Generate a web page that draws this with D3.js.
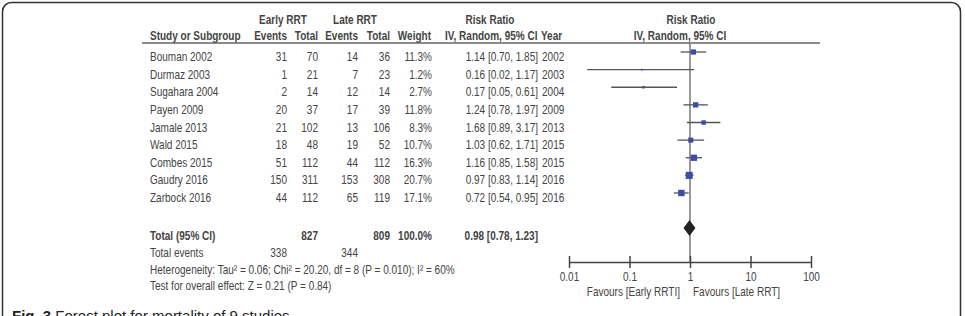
<!DOCTYPE html>
<html>
<head>
<meta charset="utf-8">
<script src="https://cdn.jsdelivr.net/npm/d3@7"></script>
<style>
  body { margin: 0; background: #fff; }
  svg text { font-family: "Liberation Sans Narrow", "Arial Narrow", "Liberation Sans", Arial, sans-serif; font-size: 13px; fill: #444; }
  .bold { font-weight: bold; }
</style>
</head>
<body>
<div id="chart"></div>
<script>
// forest plot, early vs late RRT mortality
var studies = ["Bouman 2002", "Durmaz 2003", "Sugahara 2004", "Payen 2009", "Jamale 2013", "Wald 2015", "Combes 2015", "Gaudry 2016", "Zarbock 2016"];
var earlyEvents = [31, 1, 2, 20, 21, 18, 51, 150, 44];
var earlyTotal = [70, 21, 14, 37, 102, 48, 112, 311, 112];
var lateEvents = [14, 7, 12, 17, 13, 19, 44, 153, 65];
var lateTotal = [36, 23, 14, 39, 106, 52, 112, 308, 119];
var weights = [11.3, 1.2, 2.7, 11.8, 8.3, 10.7, 16.3, 20.7, 17.1];
var rr = [1.14, 0.16, 0.17, 1.24, 1.68, 1.03, 1.16, 0.97, 0.72];
var ciLow = [0.70, 0.02, 0.05, 0.78, 0.89, 0.62, 0.85, 0.83, 0.54];
var ciHigh = [1.85, 1.17, 0.61, 1.97, 3.17, 1.71, 1.58, 1.14, 0.95];
var years = [2002, 2003, 2004, 2009, 2013, 2015, 2015, 2016, 2016];

var pooled = {rr: 0.98, low: 0.78, high: 1.23};
var totals = {earlyTotal: 827, lateTotal: 809, earlyEvents: 338, lateEvents: 344};
var axisTicks = [0.01, 0.1, 1, 10, 100];

var width = 965, height = 316;
var squeeze = 0.77; // no narrow font installed, so squash horizontally

var svg = d3.select("#chart")
    .append("svg")
    .attr("width", width)
    .attr("height", height);

svg.append("rect")
    .attr("x", 2.5).attr("y", 2.5)
    .attr("width", 958).attr("height", 340)
    .attr("rx", 9)
    .attr("fill", "white")
    .attr("stroke", "#333")
    .attr("stroke-width", 1.5);

var x = d3.scaleLog().domain([0.01, 100]).range([569, 811]);
var rowY = d3.scaleLinear().domain([0, 8]).range([61, 202]);
var f2 = d3.format(".2f");

function txt(s, px, py, anchor, cls, parent) {
    return (parent || svg).append("text")
        .attr("transform", "translate(" + px + "," + py + ") scale(" + squeeze + ",1)")
        .attr("text-anchor", anchor || "start")
        .attr("class", cls || null)
        .text(s);
}

// column headers
txt("Early RRT", 283, 24, "middle", "bold");
txt("Late RRT", 355, 24, "middle", "bold");
txt("Risk Ratio", 490, 24, "middle", "bold");
txt("Risk Ratio", 691, 24, "middle", "bold");

txt("Study or Subgroup", 150, 40, "start", "bold");
txt("Events", 287, 40, "end", "bold");
txt("Total", 318, 40, "end", "bold");
txt("Events", 358, 40, "end", "bold");
txt("Total", 390, 40, "end", "bold");
txt("Weight", 431, 40, "end", "bold");
txt("IV, Random, 95% CI", 445, 40, "start", "bold");
txt("Year", 541, 40, "start", "bold");
txt("IV, Random, 95% CI", 680, 40, "middle", "bold");

svg.append("line")
    .attr("x1", 142).attr("x2", 820)
    .attr("y1", 43).attr("y2", 43)
    .attr("stroke", "#666")
    .attr("stroke-width", 1.6);

// study rows
var rows = svg.append("g").selectAll("g")
    .data(studies)
    .enter().append("g");

rows.each(function(d, i) {
    var g = d3.select(this);
    var y = rowY(i);
    txt(d, 150, y, "start", null, g);
    txt(earlyEvents[i], 287, y, "end", null, g);
    txt(earlyTotal[i], 318, y, "end", null, g);
    txt(lateEvents[i], 358, y, "end", null, g);
    txt(lateTotal[i], 390, y, "end", null, g);
    txt(weights[i].toFixed(1) + "%", 432, y, "end", null, g);
    txt(f2(rr[i]) + " [" + f2(ciLow[i]) + ", " + f2(ciHigh[i]) + "]", 538, y, "end", null, g);
    txt(years[i], 542, y, "start", null, g);
});

// vertical line of no effect
svg.append("line")
    .attr("x1", x(1)).attr("x2", x(1))
    .attr("y1", 43).attr("y2", 262)
    .attr("stroke", "#777")
    .attr("stroke-width", 1.5);

// CI lines and squares
var marks = svg.append("g").selectAll("g")
    .data(studies)
    .enter().append("g");

marks.append("line")
    .attr("x1", function(d, i) { return x(Math.max(ciLow[i], 0.01)); })
    .attr("x2", function(d, i) { return x(ciHigh[i]); })
    .attr("y1", function(d, i) { return rowY(i) - 9; })
    .attr("y2", function(d, i) { return rowY(i) - 9; })
    .attr("stroke", "#555")
    .attr("stroke-width", 1.3);

marks.append("rect")
    .attr("width", function(d, i) { return 1.55 * Math.sqrt(weights[i]); })
    .attr("height", function(d, i) { return 1.55 * Math.sqrt(weights[i]); })
    .attr("x", function(d, i) { return x(rr[i]) - 0.775 * Math.sqrt(weights[i]); })
    .attr("y", function(d, i) { return rowY(i) - 9 - 0.775 * Math.sqrt(weights[i]); })
    .attr("fill", "#3a4fa3");

// pooled row
txt("Total (95% CI)", 150, 240, "start", "bold");
txt(totals.earlyTotal, 318, 240, "end", "bold");
txt(totals.lateTotal, 390, 240, "end", "bold");
txt("100.0%", 432, 240, "end", "bold");
txt(f2(pooled.rr) + " [" + f2(pooled.low) + ", " + f2(pooled.high) + "]", 538, 240, "end", "bold");

var dy = 228;
svg.append("path")
    .attr("d", "M" + x(pooled.low) + "," + dy +
        " L" + x(pooled.rr) + "," + (dy - 8) +
        " L" + x(pooled.high) + "," + dy +
        " L" + x(pooled.rr) + "," + (dy + 8) + " Z")
    .attr("fill", "#222");

txt("Total events", 150, 257);
txt(totals.earlyEvents, 287, 257, "end");
txt(totals.lateEvents, 358, 257, "end");
txt("Heterogeneity: Tau\u00b2 = 0.06; Chi\u00b2 = 20.20, df = 8 (P = 0.010); I\u00b2 = 60%", 150, 274);
txt("Test for overall effect: Z = 0.21 (P = 0.84)", 150, 290);

// axis
var axis = svg.append("g")
    .attr("transform", "translate(0,262)")
    .call(d3.axisBottom(x).tickValues(axisTicks).tickFormat(function(d) { return String(d); }).tickSize(6).tickSizeOuter(0));

axis.select(".domain").attr("stroke", "#444").attr("stroke-width", 1.5);
axis.selectAll(".tick line").attr("y1", -6).attr("stroke", "#444").attr("stroke-width", 1.5);
axis.selectAll(".tick text")
    .attr("y", 10)
    .attr("transform", "scale(" + squeeze + ",1)")
    .style("font-size", "13px")
    .style("fill", "#444");

txt("Favours [Early RRTI]", 680, 296, "end");
txt("Favours [Late RRT]", 693, 296, "start");

// caption, cut off at the bottom like the source image
var cap = svg.append("text")
    .attr("x", 12).attr("y", 321)
    .style("font-family", "'Liberation Sans', Arial, sans-serif")
    .style("font-size", "15px")
    .style("fill", "#222");
cap.append("tspan").attr("font-weight", "bold").text("Fig. 3");
cap.append("tspan").text(" Forest plot for mortality of 9 studies");
</script>
</body>
</html>
